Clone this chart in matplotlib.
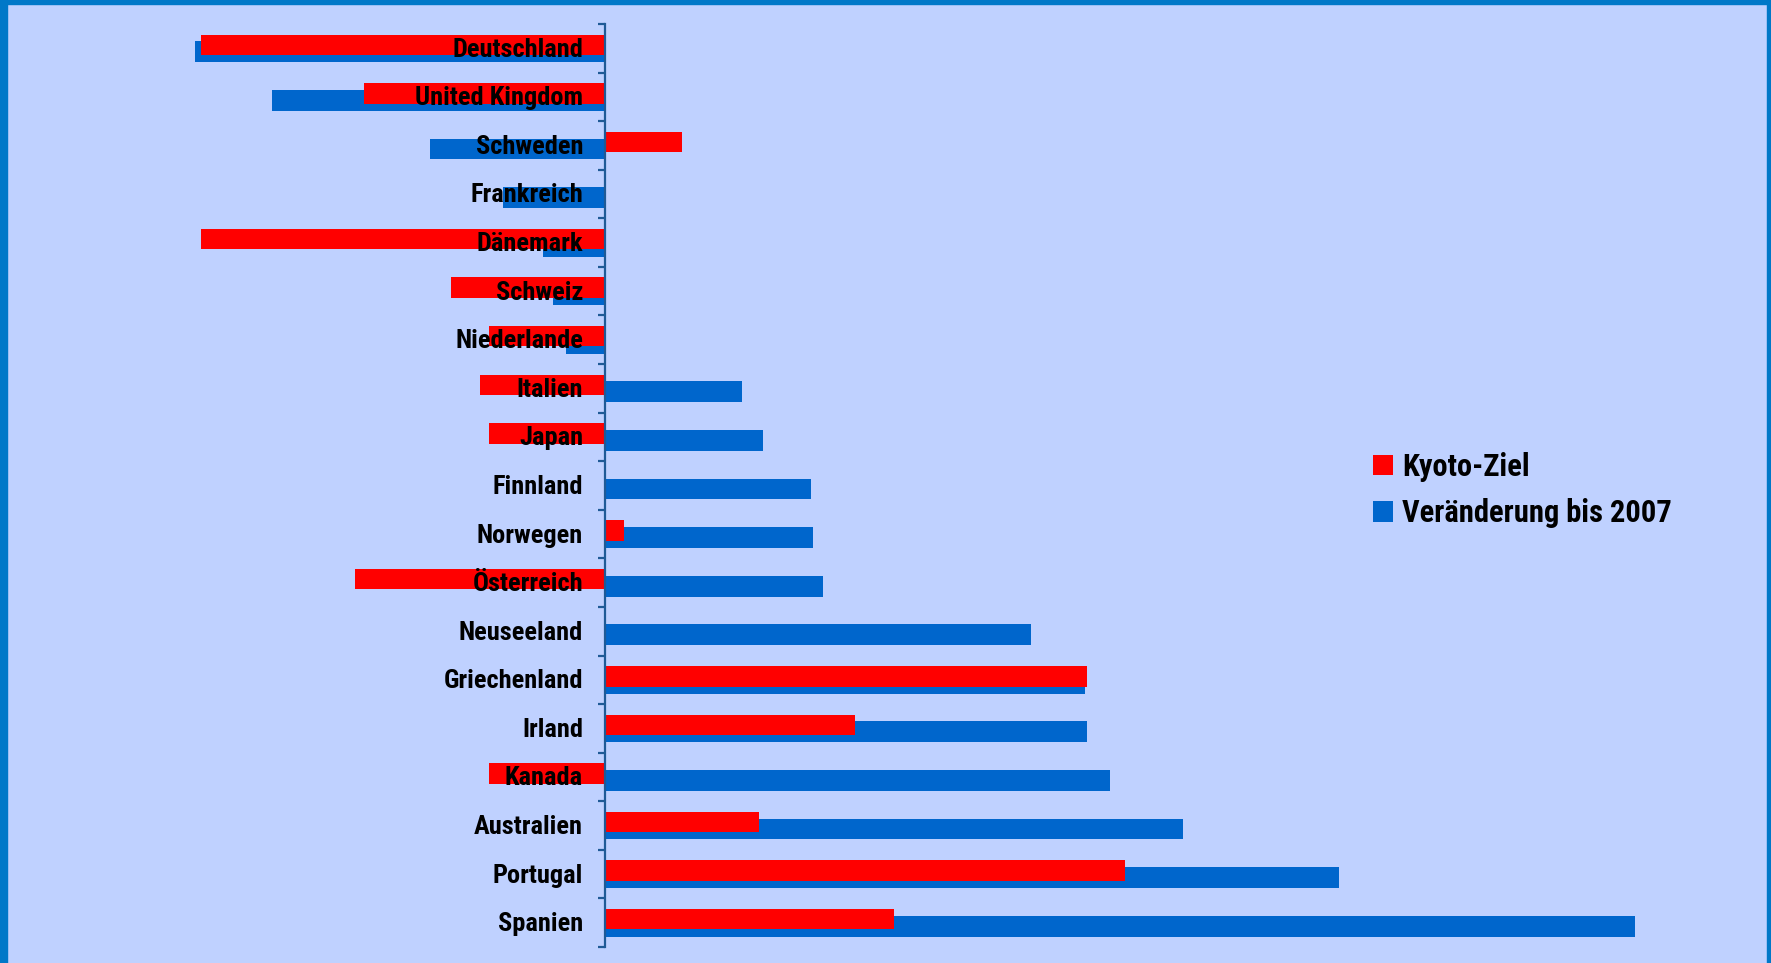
import matplotlib
matplotlib.use("Agg")
import matplotlib.pyplot as plt
from matplotlib import font_manager
from matplotlib.patches import Rectangle
import numpy as np

countries = ["Deutschland", "United Kingdom", "Schweden", "Frankreich", "Dänemark",
             "Schweiz", "Niederlande", "Italien", "Japan", "Finnland", "Norwegen",
             "Österreich", "Neuseeland", "Griechenland", "Irland", "Kanada",
             "Australien", "Portugal", "Spanien"]
kyoto_ziel = [-21, -12.5, 4, 0, -21, -8, -6, -6.5, -6, 0, 1, -13, 0, 25, 13, -6, 8, 27, 15]
veraenderung_2007 = [-21.3, -17.3, -9.1, -5.3, -3.2, -2.7, -2.0, 7.1, 8.2, 10.7, 10.8,
                     11.3, 22.1, 24.9, 25.0, 26.2, 30.0, 38.1, 53.5]
legend_labels = ["Kyoto-Ziel", "Veränderung bis 2007"]

bg = "#BFD1FF"
border = "#0078C8"
red = "#FF0000"
blue = "#0066CC"
axis_col = "#1F5A96"


def narrow_bold(size):
    # look for a narrow bold face on disk, the slide used Arial Narrow
    files = [f.fname for f in font_manager.fontManager.ttflist]
    for key in ["LiberationSansNarrow-Bold.", "RobotoCondensed-Bold.",
                "DejaVuSansCondensed-Bold.", "Condensed-Bold", "Narrow-Bold"]:
        for fn in files:
            if key in fn.split("/")[-1]:
                return font_manager.FontProperties(fname=fn, size=size)
    return font_manager.FontProperties(family="DejaVu Sans", weight="bold",
                                       stretch="condensed", size=size)


W, H = 1771, 963
fig = plt.figure(figsize=(W / 100, H / 100), dpi=100, facecolor=bg)

# axis line runs from y=24 to y=947 px, zero at x=605 px, 19.26 px per percent
ax = fig.add_axes([0, 1 - 947 / H, 1, (947 - 24) / H])
ax.set_facecolor("none")
ax.set_xlim(-605 / 19.26, (W - 605) / 19.26)
ax.set_ylim(len(countries) - 0.5, -0.5)

y = np.arange(len(countries))
hb = ax.barh(y + 0.072, veraenderung_2007, height=0.43, color=blue, zorder=2,
             label=legend_labels[1])
hr = ax.barh(y - 0.072, kyoto_ziel, height=0.42, color=red, zorder=3,
             label=legend_labels[0])

lab_font = narrow_bold(19)
for i, name in enumerate(countries):
    ax.text(-1.14, i + 0.03, name, ha="right", va="center", fontproperties=lab_font,
            color="black", zorder=5)

for s in ["top", "right", "bottom"]:
    ax.spines[s].set_visible(False)
ax.spines["left"].set_position(("data", 0))
ax.spines["left"].set_color(axis_col)
ax.spines["left"].set_linewidth(1.6)
ax.spines["left"].set_zorder(4)
ax.set_yticks(np.arange(-0.5, len(countries) + 0.5, 1))
ax.tick_params(axis="y", direction="out", length=5, width=1.6, color=axis_col,
               labelleft=False)
ax.set_xticks([])

leg = fig.legend(handles=[hr, hb], labels=legend_labels, loc="center left",
                 bbox_to_anchor=(1373 / W, 1 - 490 / H), frameon=False,
                 prop=narrow_bold(22),
                 handlelength=0.65, handleheight=0.65, handletextpad=0.3,
                 borderpad=0, borderaxespad=0, labelspacing=0.55)

# blue frame around the slide
fig.patches.append(Rectangle((0, 0), 7 / W, 1, transform=fig.transFigure,
                             color=border, zorder=10))
fig.patches.append(Rectangle((0, 1 - 4 / H), 1, 4 / H, transform=fig.transFigure,
                             color=border, zorder=10))
fig.patches.append(Rectangle((1 - 4 / W, 0), 4 / W, 1, transform=fig.transFigure,
                             color=border, zorder=10))

fig.savefig("out.png", dpi=100, facecolor=bg)
